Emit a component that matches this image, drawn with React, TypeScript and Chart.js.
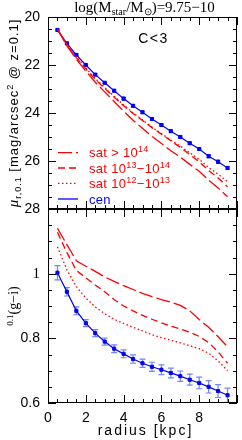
import React, { useEffect, useRef } from "react";
import { Chart, registerables } from "chart.js";
Chart.register(...registerables);

// ---------- data ----------
const radius = [0.5, 1, 1.5, 2, 2.5, 3, 3.5, 4, 4.5, 5, 5.5, 6, 6.5, 7, 7.5, 8, 8.5, 9, 9.5];

// surface brightness (top panel)
const sbCen = [20.54, 21.1, 21.58, 22.0, 22.4, 22.74, 23.07, 23.4, 23.7, 23.97, 24.25, 24.5, 24.76, 25.0, 25.26, 25.5, 25.8, 26.03, 26.29];
const sbCenErr = [0.04, 0.04, 0.04, 0.04, 0.04, 0.04, 0.05, 0.05, 0.05, 0.05, 0.05, 0.05, 0.05, 0.05, 0.05, 0.05, 0.06, 0.06, 0.06];
const sbSat14 = [20.51, 21.2, 21.76, 22.25, 22.72, 23.12, 23.52, 23.92, 24.3, 24.64, 24.97, 25.27, 25.57, 25.84, 26.14, 26.43, 26.8, 27.12, 27.49];
const sbSat13 = [20.51, 21.16, 21.69, 22.16, 22.6, 22.98, 23.34, 23.7, 24.02, 24.31, 24.61, 24.88, 25.16, 25.43, 25.73, 26.03, 26.4, 26.71, 27.07];
const sbSat12 = [20.51, 21.14, 21.66, 22.12, 22.56, 22.94, 23.3, 23.66, 23.99, 24.29, 24.59, 24.86, 25.13, 25.38, 25.66, 25.93, 26.27, 26.55, 26.86];

// colour (bottom panel)
const giCen = [1.003, 0.944, 0.885, 0.847, 0.816, 0.79, 0.768, 0.752, 0.736, 0.723, 0.712, 0.703, 0.693, 0.683, 0.672, 0.662, 0.65, 0.637, 0.624];
const giCenErr = [0.022, 0.013, 0.012, 0.011, 0.011, 0.011, 0.012, 0.012, 0.013, 0.013, 0.014, 0.015, 0.015, 0.016, 0.017, 0.018, 0.019, 0.02, 0.022];
const giSat14 = [1.14, 1.09, 1.04, 1.023, 1.007, 0.99, 0.976, 0.963, 0.951, 0.939, 0.929, 0.92, 0.912, 0.902, 0.885, 0.858, 0.834, 0.805, 0.774];
const giSat13 = [1.128, 1.065, 1.01, 0.987, 0.965, 0.944, 0.92, 0.9, 0.885, 0.871, 0.859, 0.848, 0.838, 0.829, 0.819, 0.806, 0.787, 0.758, 0.723];
const giSat12 = [1.083, 1.012, 0.96, 0.925, 0.897, 0.876, 0.859, 0.846, 0.834, 0.823, 0.811, 0.802, 0.794, 0.786, 0.777, 0.768, 0.754, 0.73, 0.7];

// tick labels
const xTickLabels = [0, 2, 4, 6, 8];
const sbTickLabels = [20, 22, 24, 26, 28];
const giTickLabels = [0.6, 0.8, 1];

// legend labels
const legendNames = ["sat > 10^14", "sat 10^13\u221210^14", "sat 10^12\u221210^13", "cen"];

// ---------- styles ----------
const RED = "#ff0000";
const BLUE = "#0000ff";
const SANS = "Liberation Sans";
const SERIF = "Liberation Serif";
const dash14 = [14, 4];
const dash13 = [7, 4];
const dash12 = [1.5, 2.5];

type Part = { t: string; size?: number; dy?: number; italic?: boolean; family?: string };

function parseSup(s: string): Part[] {
  const out: Part[] = [];
  const re = /\^(\d+)/g;
  let last = 0;
  let m: RegExpExecArray | null;
  while ((m = re.exec(s))) {
    if (m.index > last) out.push({ t: s.slice(last, m.index) });
    out.push({ t: m[1], size: 9, dy: -5 });
    last = m.index + m[0].length;
  }
  if (last < s.length) out.push({ t: s.slice(last) });
  return out;
}

function setFont(ctx: CanvasRenderingContext2D, p: Part, family: string, size: number) {
  ctx.font = `${p.italic ? "italic " : ""}${p.size ?? size}px "${p.family ?? family}"`;
}

function drawRich(
  ctx: CanvasRenderingContext2D,
  parts: Part[],
  x: number,
  y: number,
  align: "left" | "center",
  family: string,
  size: number,
  color: string,
  spacing = 0
) {
  ctx.save();
  (ctx as any).letterSpacing = spacing + "px";
  ctx.fillStyle = color;
  ctx.textBaseline = "alphabetic";
  ctx.textAlign = "left";
  let total = 0;
  const widths = parts.map((p) => {
    setFont(ctx, p, family, size);
    const w = ctx.measureText(p.t).width;
    total += w;
    return w;
  });
  let cx = align === "center" ? x - total / 2 : x;
  parts.forEach((p, i) => {
    setFont(ctx, p, family, size);
    ctx.fillText(p.t, cx, y + (p.dy ?? 0));
    cx += widths[i];
  });
  ctx.restore();
}

function makeFrame(xMinor: number, xMajor: number, yMinor: number, yMajor: number) {
  return {
    id: "frame",
    afterDraw(chart: any) {
      const { ctx, chartArea: a, scales } = chart;
      const xs = scales.x;
      const ys = scales.y;
      ctx.save();
      ctx.strokeStyle = "#000";
      ctx.lineWidth = 1;
      const isMul = (v: number, m: number) => Math.abs(v / m - Math.round(v / m)) < 1e-6;
      const nx = Math.round((xs.max - xs.min) / xMinor);
      ctx.beginPath();
      for (let i = 0; i <= nx; i++) {
        const v = xs.min + i * xMinor;
        const px = Math.round(xs.getPixelForValue(v)) + 0.5;
        const len = isMul(v, xMajor) ? 8 : 4;
        ctx.moveTo(px, a.bottom);
        ctx.lineTo(px, a.bottom - len);
        ctx.moveTo(px, a.top);
        ctx.lineTo(px, a.top + len);
      }
      const ny = Math.round((ys.max - ys.min) / yMinor);
      for (let i = 0; i <= ny; i++) {
        const v = ys.min + i * yMinor;
        const py = Math.round(ys.getPixelForValue(v)) + 0.5;
        const len = isMul(v, yMajor) ? 8 : 4;
        ctx.moveTo(a.left, py);
        ctx.lineTo(a.left + len, py);
        ctx.moveTo(a.right, py);
        ctx.lineTo(a.right - len, py);
      }
      ctx.stroke();
      ctx.strokeRect(Math.round(a.left) + 0.5, Math.round(a.top) + 0.5, Math.round(a.right - a.left) - 1, Math.round(a.bottom - a.top) - 1);
      ctx.restore();
    },
  };
}

const errorBars = {
  id: "errorBars",
  beforeDatasetsDraw(chart: any) {
    const { ctx, scales } = chart;
    chart.data.datasets.forEach((ds: any) => {
      if (!ds.errors) return;
      ctx.save();
      ctx.strokeStyle = ds.errColor;
      ctx.lineWidth = 1.2;
      ctx.beginPath();
      ds.data.forEach((pt: any, i: number) => {
        const e = ds.errors[i];
        const px = scales.x.getPixelForValue(pt.x);
        const y1 = scales.y.getPixelForValue(pt.y - e);
        const y2 = scales.y.getPixelForValue(pt.y + e);
        ctx.moveTo(px, y1);
        ctx.lineTo(px, y2);
        ctx.moveTo(px - ds.capW, y1);
        ctx.lineTo(px + ds.capW, y1);
        ctx.moveTo(px - ds.capW, y2);
        ctx.lineTo(px + ds.capW, y2);
      });
      ctx.stroke();
      ctx.restore();
    });
  },
};

function series(ys: number[]) {
  return radius.map((r, i) => ({ x: r, y: ys[i] }));
}

function lineDs(ys: number[], color: string, dash: number[]) {
  return {
    data: series(ys),
    showLine: true,
    borderColor: color,
    borderWidth: 1.3,
    borderDash: dash,
    pointRadius: 0,
  };
}

const tickFont = (ctx: any) =>
  ctx.tick && ctx.tick.value === 1 ? { family: SERIF, size: 15 } : { family: SANS, size: 14 };

export default function App() {
  const topRef = useRef<HTMLCanvasElement>(null);
  const botRef = useRef<HTMLCanvasElement>(null);

  useEffect(() => {
    const topTexts = {
      id: "topTexts",
      afterDraw(chart: any) {
        const ctx = chart.ctx as CanvasRenderingContext2D;
        // title
        drawRich(
          ctx,
          [{ t: "log(M" }, { t: "star", size: 10, dy: 3 }, { t: "/M" }, { t: "\u2299", size: 10, dy: 3 }, { t: ")=9.75\u221210" }],
          144.5,
          12,
          "center",
          SERIF,
          15,
          "#000"
        );
        // C<3
        drawRich(ctx, [{ t: "C<3" }], 153.5, 43, "center", SANS, 14, "#000", 1.5);
        // y label
        ctx.save();
        ctx.translate(18, 113);
        ctx.rotate(-Math.PI / 2);
        drawRich(
          ctx,
          [
            { t: "\u03bc", family: SERIF, italic: true, size: 15 },
            { t: "r,0.1", size: 9, dy: 3 },
            { t: " [mag/arcsec" },
            { t: "2", size: 9, dy: -5 },
            { t: " @ z=0.1]" },
          ],
          0,
          0,
          "center",
          SANS,
          13,
          "#000",
          1
        );
        ctx.restore();
        // legend
        const styles = [
          { c: RED, d: dash14 },
          { c: RED, d: dash13 },
          { c: RED, d: dash12 },
          { c: BLUE, d: [] as number[] },
        ];
        const ys = [152.7, 168, 183.3, 199];
        legendNames.forEach((name, i) => {
          ctx.save();
          ctx.strokeStyle = styles[i].c;
          ctx.lineWidth = 1.3;
          ctx.setLineDash(styles[i].d);
          ctx.beginPath();
          ctx.moveTo(58, ys[i]);
          ctx.lineTo(78, ys[i]);
          ctx.stroke();
          ctx.restore();
          drawRich(ctx, parseSup(name), 89, ys[i] + 4.5, "left", SANS, 13, styles[i].c, 0.3);
        });
      },
    };

    const botTexts = {
      id: "botTexts",
      afterDraw(chart: any) {
        const ctx = chart.ctx as CanvasRenderingContext2D;
        ctx.save();
        ctx.translate(18, 306);
        ctx.rotate(-Math.PI / 2);
        drawRich(ctx, [{ t: "0.1", size: 9, dy: -5 }, { t: "(g\u2212i)" }], 0, 0, "center", SERIF, 14, "#000");
        ctx.restore();
        drawRich(ctx, [{ t: "radius [kpc]" }], 145.5, 435, "center", SANS, 14, "#000", 2);
      },
    };

    const cenTop: any = {
      data: series(sbCen),
      showLine: true,
      borderColor: BLUE,
      backgroundColor: BLUE,
      borderWidth: 1.2,
      pointStyle: "rect",
      pointRadius: 2.2,
      pointBorderWidth: 1,
      errors: sbCenErr,
      errColor: BLUE,
      capW: 2,
    };
    const cenBot: any = {
      data: series(giCen),
      showLine: true,
      borderColor: BLUE,
      backgroundColor: BLUE,
      borderWidth: 1.2,
      pointStyle: "rect",
      pointRadius: 2.2,
      pointBorderWidth: 1,
      errors: giCenErr,
      errColor: "rgba(70,90,255,0.75)",
      capW: 3,
    };

    const common = {
      responsive: false,
      animation: false as const,
      devicePixelRatio: 1,
      events: [] as any[],
    };

    const top = new Chart(topRef.current!, {
      type: "scatter",
      data: {
        datasets: [lineDs(sbSat14, RED, dash14), lineDs(sbSat13, RED, dash13), lineDs(sbSat12, RED, dash12), cenTop] as any,
      },
      options: {
        ...common,
        layout: { padding: { left: 0, right: 1, top: 17, bottom: 231 } },
        plugins: { legend: { display: false }, tooltip: { enabled: false } },
        scales: {
          x: { type: "linear", min: 0, max: 10, display: false },
          y: {
            type: "linear",
            min: 20,
            max: 28,
            reverse: true,
            afterFit: (s: any) => {
              s.width = 48;
            },
            afterBuildTicks: (s: any) => {
              s.ticks = sbTickLabels.map((v) => ({ value: v }));
            },
            grid: { display: false, drawTicks: false },
            border: { display: false },
            ticks: { padding: 8, color: "#000", font: { family: SANS, size: 14 } },
          },
        },
      } as any,
      plugins: [errorBars, makeFrame(0.5, 2, 0.5, 2), topTexts],
    });

    const bot = new Chart(botRef.current!, {
      type: "scatter",
      data: {
        datasets: [lineDs(giSat14, RED, dash14), lineDs(giSat13, RED, dash13), lineDs(giSat12, RED, dash12), cenBot] as any,
      },
      options: {
        ...common,
        layout: { padding: { left: 0, right: 1, top: 209, bottom: 0 } },
        plugins: { legend: { display: false }, tooltip: { enabled: false } },
        scales: {
          x: {
            type: "linear",
            min: 0,
            max: 10,
            afterFit: (s: any) => {
              s.height = 37;
            },
            afterBuildTicks: (s: any) => {
              s.ticks = xTickLabels.map((v) => ({ value: v }));
            },
            grid: { display: false, drawTicks: false },
            border: { display: false },
            ticks: { padding: 7, color: "#000", maxRotation: 0, font: { family: SANS, size: 14 } },
          },
          y: {
            type: "linear",
            min: 0.6,
            max: 1.2,
            afterFit: (s: any) => {
              s.width = 48;
            },
            afterBuildTicks: (s: any) => {
              s.ticks = giTickLabels.map((v) => ({ value: v }));
            },
            grid: { display: false, drawTicks: false },
            border: { display: false },
            ticks: {
              padding: 8,
              color: "#000",
              font: tickFont,
              callback: (v: any) => String(Number(Number(v).toFixed(2))),
            },
          },
        },
      } as any,
      plugins: [errorBars, makeFrame(0.5, 2, 0.05, 0.2), botTexts],
    });

    return () => {
      top.destroy();
      bot.destroy();
    };
  }, []);

  return (
    <div style={{ position: "fixed", left: 0, top: 0, width: 242, height: 440, background: "#fff" }}>
      <canvas ref={topRef} width={242} height={440} style={{ position: "absolute", left: 0, top: 0 }} />
      <canvas ref={botRef} width={242} height={440} style={{ position: "absolute", left: 0, top: 0 }} />
    </div>
  );
}
